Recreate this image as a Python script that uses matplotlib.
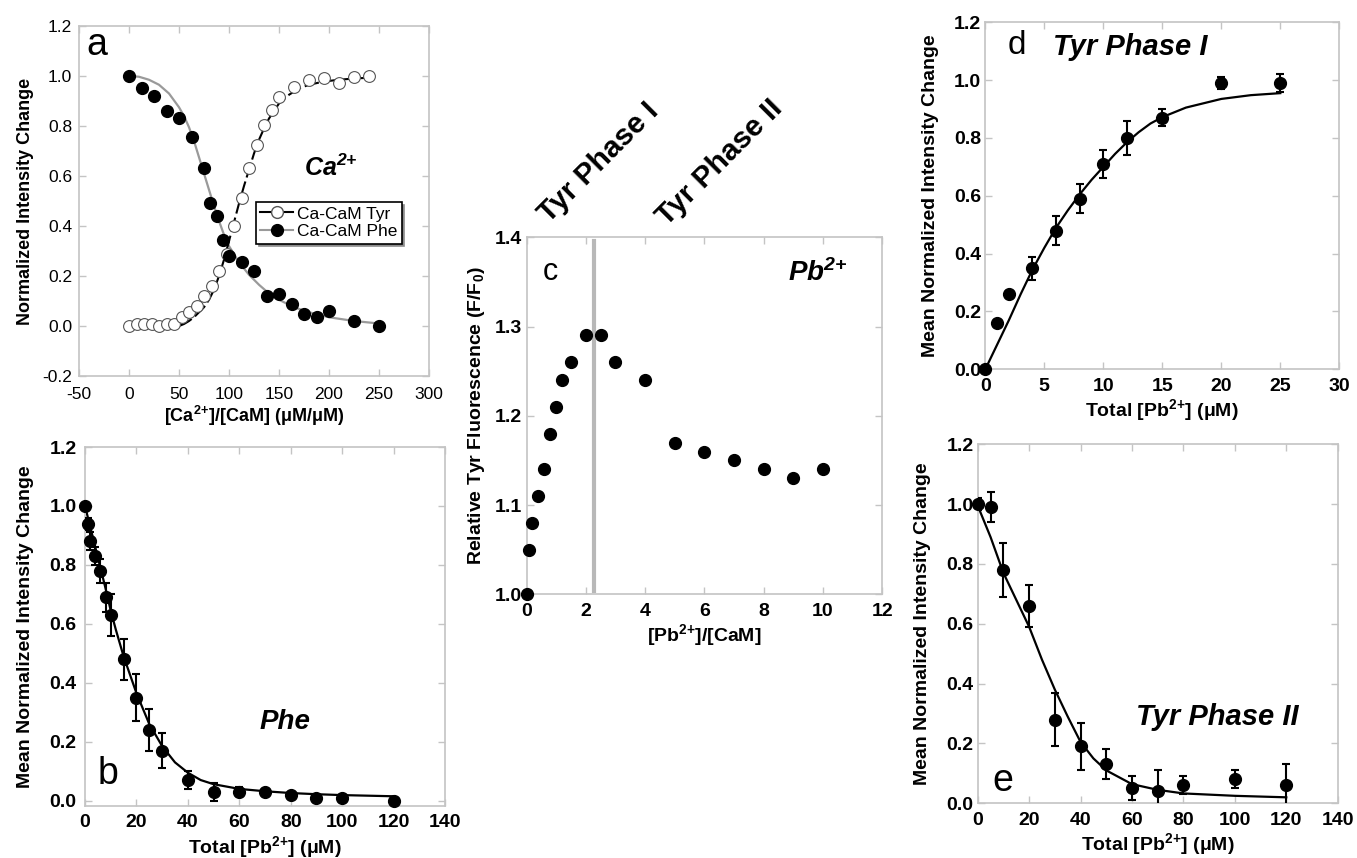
import matplotlib
matplotlib.use('Agg')
import matplotlib.pyplot as plt
from matplotlib.lines import Line2D
from matplotlib.ticker import FormatStrFormatter

plt.rcParams['font.family'] = ['Liberation Sans', 'DejaVu Sans']
plt.rcParams['mathtext.fontset'] = 'custom'
plt.rcParams['mathtext.rm'] = 'Liberation Sans'
plt.rcParams['mathtext.bf'] = 'Liberation Sans:bold'
plt.rcParams['mathtext.it'] = 'Liberation Sans:italic'
plt.rcParams['mathtext.sf'] = 'Liberation Sans:italic:bold'
plt.rcParams['axes.unicode_minus'] = False

# ---- panel a: Ca2+ titration ----
tyr_x = [0, 7.5, 15, 22.5, 30, 37.5, 45, 52.5, 60, 67.5, 75, 82.5, 90, 97.5, 105,
         112.5, 120, 127.5, 135, 142.5, 150, 165, 180, 195, 210, 225, 240]
tyr_y = [0.0, 0.01, 0.01, 0.01, 0.0, 0.01, 0.01, 0.035, 0.055, 0.08, 0.12, 0.16, 0.22,
         0.29, 0.40, 0.51, 0.63, 0.725, 0.805, 0.865, 0.915, 0.955, 0.985, 0.99, 0.97,
         0.995, 1.0]
tyr_fit_x = [50, 55, 60, 65, 70, 75, 80, 85, 90, 95, 100, 105, 110, 115, 120, 125, 130,
             135, 140, 150, 160, 170, 180, 195, 210, 225, 240]
tyr_fit_y = [0.0, 0.008, 0.02, 0.035, 0.055, 0.075, 0.105, 0.145, 0.2, 0.265, 0.34,
             0.415, 0.49, 0.56, 0.625, 0.69, 0.745, 0.79, 0.83, 0.89, 0.925, 0.95, 0.965,
             0.978, 0.985, 0.99, 0.993]
phe_x = [0, 12.5, 25, 37.5, 50, 62.5, 75, 81, 87.5, 94, 100, 112.5, 125, 137.5, 150,
         162.5, 175, 187.5, 200, 225, 250]
phe_y = [1.0, 0.95, 0.92, 0.86, 0.83, 0.755, 0.63, 0.49, 0.44, 0.345, 0.28, 0.255, 0.22,
         0.12, 0.13, 0.09, 0.05, 0.035, 0.06, 0.02, 0.0]
phe_fit_x = [0, 10, 20, 30, 40, 50, 55, 60, 65, 70, 75, 80, 85, 90, 95, 100, 110, 120,
             130, 140, 150, 165, 180, 200, 225, 250]
phe_fit_y = [1.0, 0.997, 0.985, 0.965, 0.93, 0.875, 0.84, 0.795, 0.74, 0.675, 0.61,
             0.545, 0.48, 0.42, 0.365, 0.32, 0.255, 0.205, 0.165, 0.13, 0.105, 0.075,
             0.055, 0.035, 0.02, 0.01]

# ---- panel b: Phe vs Pb2+ ----
b_x = [0, 1, 2, 4, 6, 8, 10, 15, 20, 25, 30, 40, 50, 60, 70, 80, 90, 100, 120]
b_y = [1.0, 0.94, 0.88, 0.83, 0.78, 0.69, 0.63, 0.48, 0.35, 0.24, 0.17, 0.07, 0.03,
       0.03, 0.03, 0.02, 0.01, 0.01, 0.0]
b_err = [0.01, 0.02, 0.03, 0.03, 0.04, 0.05, 0.07, 0.07, 0.08, 0.07, 0.06, 0.03, 0.03,
         0.015, 0.01, 0.01, 0.01, 0.01, 0.01]
b_fit_x = [0, 2, 4, 6, 8, 10, 12, 15, 20, 25, 30, 35, 40, 45, 50, 60, 70, 80, 90, 100,
           110, 120]
b_fit_y = [1.0, 0.93, 0.86, 0.79, 0.72, 0.645, 0.58, 0.49, 0.365, 0.26, 0.185, 0.13,
           0.095, 0.07, 0.056, 0.04, 0.032, 0.026, 0.022, 0.019, 0.017, 0.015]

# ---- panel c: relative Tyr fluorescence ----
c_x = [0, 0.1, 0.2, 0.4, 0.6, 0.8, 1.0, 1.2, 1.5, 2.0, 2.5, 3, 4, 5, 6, 7, 8, 9, 10]
c_y = [1.00, 1.05, 1.08, 1.11, 1.14, 1.18, 1.21, 1.24, 1.26, 1.29, 1.29, 1.26, 1.24,
       1.17, 1.16, 1.15, 1.14, 1.13, 1.14]
phase_split = 2.27

# ---- panel d: Tyr phase I ----
d_x = [0, 1, 2, 4, 6, 8, 10, 12, 15, 20, 25]
d_y = [0.0, 0.16, 0.26, 0.35, 0.48, 0.59, 0.71, 0.80, 0.87, 0.99, 0.99]
d_err = [0.005, 0.01, 0.01, 0.04, 0.05, 0.05, 0.05, 0.06, 0.03, 0.02, 0.03]
d_fit_x = [0, 1, 2, 3, 4, 5, 6, 7, 8, 9, 10, 11, 12, 13, 14, 15, 17, 20, 22.5, 25]
d_fit_y = [0.0, 0.085, 0.17, 0.26, 0.345, 0.42, 0.49, 0.55, 0.605, 0.655, 0.70, 0.745,
           0.785, 0.82, 0.85, 0.872, 0.905, 0.935, 0.948, 0.955]

# ---- panel e: Tyr phase II ----
e_x = [0, 5, 10, 20, 30, 40, 50, 60, 70, 80, 100, 120]
e_y = [1.0, 0.99, 0.78, 0.66, 0.28, 0.19, 0.13, 0.05, 0.04, 0.06, 0.08, 0.06]
e_err = [0.02, 0.05, 0.09, 0.07, 0.09, 0.08, 0.05, 0.04, 0.07, 0.03, 0.03, 0.07]
e_fit_x = [0, 5, 10, 15, 20, 25, 30, 35, 40, 45, 50, 60, 70, 80, 100, 120]
e_fit_y = [0.995, 0.89, 0.77, 0.68, 0.59, 0.48, 0.38, 0.29, 0.205, 0.15, 0.11, 0.064,
           0.045, 0.033, 0.025, 0.02]

W, H = 1357, 858
fig = plt.figure(figsize=(W / 100, H / 100), dpi=100)


def box(x0, y0, x1, y1):
    return fig.add_axes([x0 / W, 1 - y1 / H, (x1 - x0) / W, (y1 - y0) / H])


def style(ax, bold=True, size=14, xpad=6, ypad=3):
    for s in ax.spines.values():
        s.set_color('#c4c4c4')
        s.set_linewidth(1.2)
    ax.tick_params(direction='in', top=True, right=True, length=5, width=1,
                   color='#c4c4c4', labelsize=size)
    ax.tick_params(axis='x', pad=xpad)
    ax.tick_params(axis='y', pad=ypad)
    for lab in ax.get_xticklabels() + ax.get_yticklabels():
        lab.set_fontweight('bold' if bold else 'normal')


def ftext(x, y, s, **kw):
    fig.text(x / W, 1 - y / H, s, ha='center', va='center', **kw)


pb_label = r'Total [Pb$^{\mathbf{2{+}}}$] (μM)'
dot = dict(marker='o', ls='none', color='k', ms=8.5, clip_on=False, zorder=4)
ebar = dict(fmt='none', ecolor='k', elinewidth=1.5, capsize=3, capthick=1.5, zorder=3)

# panel a
ax = box(79, 26, 429, 376)
ax.plot(phe_fit_x, phe_fit_y, color='#9a9a9a', lw=1.6, zorder=2)
ax.plot(tyr_fit_x, tyr_fit_y, color='k', lw=1.5, dashes=(7, 2), zorder=2)
ax.plot(tyr_x, tyr_y, marker='o', ls='none', mfc='white', mec='#555555', mew=0.8,
        ms=8.5, zorder=3, clip_on=False)
ax.plot(phe_x, phe_y, **dot)
ax.set_xlim(-50, 300)
ax.set_ylim(-0.2, 1.2)
ax.set_xticks(range(-50, 301, 50))
ax.set_yticks([-0.2, 0.0, 0.2, 0.4, 0.6, 0.8, 1.0, 1.2])
ax.xaxis.set_major_formatter(FormatStrFormatter('%d'))
ax.yaxis.set_major_formatter(FormatStrFormatter('%.1f'))
style(ax, bold=False, size=12.5, xpad=8, ypad=5)
ax.set_xlabel(r'[Ca$^{\mathbf{2{+}}}$]/[CaM] (μM/μM)', fontsize=13, fontweight='bold',
              labelpad=1)
ax.set_ylabel('Normalized Intensity Change', fontsize=13, fontweight='bold', labelpad=6)
handles = [Line2D([], [], color='k', lw=1.5, marker='o', mfc='white', mec='#555555',
                  ms=8.5),
           Line2D([], [], color='#9a9a9a', lw=1.5, marker='o', mfc='k', mec='k', ms=8.5)]
leg = ax.legend(handles, ['Ca-CaM Tyr', 'Ca-CaM Phe'], loc='upper left',
                bbox_to_anchor=(0.506, 0.497), fancybox=False,
                shadow={'color': '0.55', 'alpha': 1}, edgecolor='k', fontsize=12.5,
                handlelength=1.9, borderpad=0.25, labelspacing=0.15,
                handletextpad=0.2, borderaxespad=0)
leg.get_frame().set_linewidth(1.2)

# panel b
ax = box(85, 447, 445, 806)
ax.errorbar(b_x, b_y, yerr=b_err, **ebar)
ax.plot(b_fit_x, b_fit_y, color='k', lw=1.6, zorder=2)
ax.plot(b_x, b_y, **dot)
ax.set_xlim(0, 140)
ax.set_ylim(-0.018, 1.2)
ax.set_xticks(range(0, 141, 20))
ax.set_yticks([0.0, 0.2, 0.4, 0.6, 0.8, 1.0, 1.2])
ax.yaxis.set_major_formatter(FormatStrFormatter('%.1f'))
style(ax, ypad=6)
ax.set_xlabel(pb_label, fontsize=14, fontweight='bold', labelpad=2)
ax.set_ylabel('Mean Normalized Intensity Change', fontsize=14, fontweight='bold',
              labelpad=11)

# panel c
ax = box(526.5, 237.3, 882.3, 594.3)
ax.axvline(phase_split, ymin=0.01, ymax=0.99, color='#b8b8b8', lw=3, zorder=1)
ax.plot(c_x, c_y, **dot)
ax.set_xlim(0, 12)
ax.set_ylim(1.0, 1.4)
ax.set_xticks(range(0, 13, 2))
ax.set_yticks([1.0, 1.1, 1.2, 1.3, 1.4])
ax.yaxis.set_major_formatter(FormatStrFormatter('%.1f'))
style(ax)
ax.set_xlabel(r'[Pb$^{\mathbf{2{+}}}$]/[CaM]', fontsize=14, fontweight='bold',
              labelpad=2)
ax.set_ylabel(r'Relative Tyr Fluorescence (F/F$_{\mathbf{0}}$)', fontsize=14,
              fontweight='bold', labelpad=6)

# panel d
ax = box(985.3, 22.3, 1339.3, 369.3)
ax.errorbar(d_x, d_y, yerr=d_err, **ebar)
ax.plot(d_fit_x, d_fit_y, color='k', lw=1.6, zorder=2)
ax.plot(d_x, d_y, **dot)
ax.set_xlim(0, 30)
ax.set_ylim(0, 1.2)
ax.set_xticks(range(0, 31, 5))
ax.set_yticks([0.0, 0.2, 0.4, 0.6, 0.8, 1.0, 1.2])
ax.yaxis.set_major_formatter(FormatStrFormatter('%.1f'))
style(ax)
ax.set_xlabel(pb_label, fontsize=14, fontweight='bold', labelpad=2)
ax.set_ylabel('Mean Normalized Intensity Change', fontsize=14, fontweight='bold',
              labelpad=11)

# panel e
ax = box(977.7, 444.3, 1337.7, 803.3)
ax.errorbar(e_x, e_y, yerr=e_err, **ebar)
ax.plot(e_fit_x, e_fit_y, color='k', lw=1.6, zorder=2)
ax.plot(e_x, e_y, **dot)
ax.set_xlim(0, 140)
ax.set_ylim(0, 1.2)
ax.set_xticks(range(0, 141, 20))
ax.set_yticks([0.0, 0.2, 0.4, 0.6, 0.8, 1.0, 1.2])
ax.yaxis.set_major_formatter(FormatStrFormatter('%.1f'))
style(ax)
ax.set_xlabel(pb_label, fontsize=14, fontweight='bold', labelpad=2)
ax.set_ylabel('Mean Normalized Intensity Change', fontsize=14, fontweight='bold',
              labelpad=11)

# panel letters and annotations
ftext(97, 45, 'a', fontsize=27)
ftext(108, 774, 'b', fontsize=27)
ftext(550, 272, 'c', fontsize=22)
ftext(1017, 45, 'd', fontsize=24)
ftext(1003, 781, 'e', fontsize=27)
ftext(331, 168, r'$\mathsf{Ca^{2{+}}}$', fontsize=18)
ftext(818, 273, r'$\mathsf{Pb^{2{+}}}$', fontsize=20)
ftext(285, 722, 'Phe', fontsize=20, fontweight='bold', fontstyle='italic')
ftext(1130, 47, 'Tyr Phase I', fontsize=21, fontweight='bold', fontstyle='italic')
ftext(1217, 717, 'Tyr Phase II', fontsize=21, fontweight='bold', fontstyle='italic')
ftext(599, 163, 'Tyr Phase I', fontsize=21.5, fontweight='bold', rotation=45)
ftext(720, 163, 'Tyr Phase II', fontsize=21.5, fontweight='bold', rotation=45)

fig.savefig('out.png', dpi=100)
